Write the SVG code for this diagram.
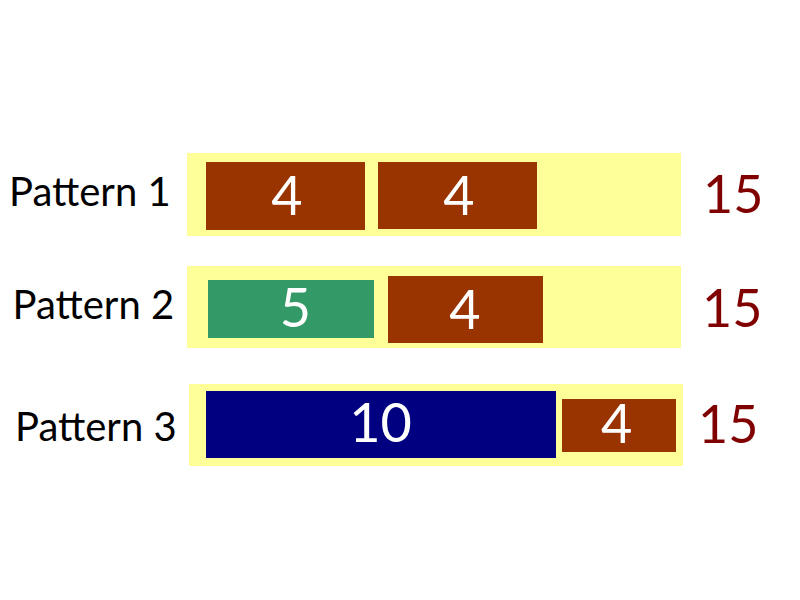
<svg xmlns="http://www.w3.org/2000/svg" width="800" height="600" viewBox="0 0 800 600">
<style>
.bg{fill:#ffff99}
.b4{fill:#993300}
.g5{fill:#339966}
.n10{fill:#000080}
.v{font-family:Lato,"Noto Sans",sans-serif;font-size:54px;fill:#ffffff;text-anchor:middle}
.t{font-family:Lato,"Noto Sans",sans-serif;font-size:52px;fill:#800000}
.l{font-family:Lato,"Noto Sans",sans-serif;font-size:40px;fill:#000000}
</style>
<rect width="800" height="600" fill="#ffffff"/>
<g id="pattern1">
<text class="l" x="9" y="205.7">Pattern 1</text>
<rect class="bg" x="187" y="153" width="494" height="83"/>
<rect class="b4" x="206" y="162" width="159" height="68"/>
<text class="v" x="287" y="215.3">4</text>
<rect class="b4" x="378" y="162" width="159" height="67"/>
<text class="v" x="459" y="215.3">4</text>
<text class="t" x="703" y="213.3">15</text>
</g>
<g id="pattern2">
<text class="l" x="12.5" y="318.7">Pattern 2</text>
<rect class="bg" x="187" y="266" width="494" height="82"/>
<rect class="g5" x="208" y="280" width="166" height="58"/>
<text class="v" x="295.5" y="326.7">5</text>
<rect class="b4" x="388" y="276" width="155" height="67"/>
<text class="v" x="465" y="328.7">4</text>
<text class="t" x="702" y="327.3">15</text>
</g>
<g id="pattern3">
<text class="l" x="15" y="441">Pattern 3</text>
<rect class="bg" x="189" y="384" width="494" height="82"/>
<rect class="n10" x="206" y="391" width="350" height="67"/>
<text class="v" x="380.5" y="441.7">10</text>
<rect class="b4" x="562" y="399" width="114" height="53"/>
<text class="v" x="616.7" y="443.3">4</text>
<text class="t" x="698" y="443.3">15</text>
</g>
<g id="connectors"/>
</svg>
